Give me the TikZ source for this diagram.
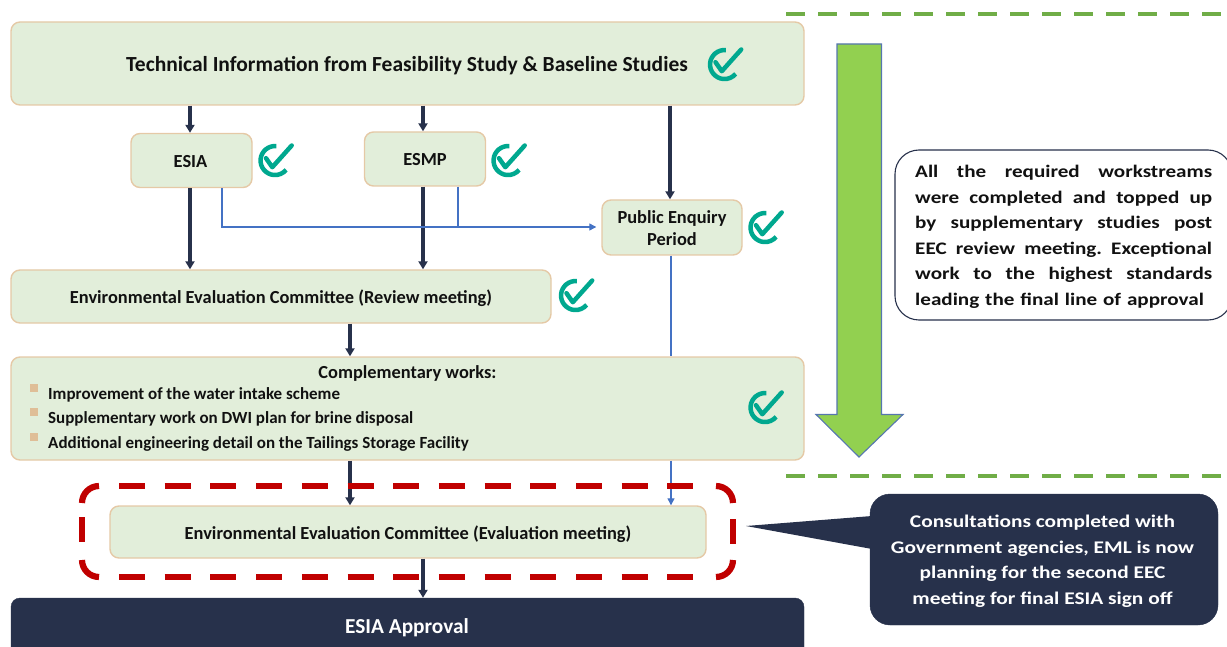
\documentclass[tikz,border=0pt]{standalone}
\usepackage{fontspec}
\setmainfont{Carlito}
\newfontfamily\widefont[FakeStretch=1.2]{Carlito}
\usetikzlibrary{arrows.meta}
\definecolor{boxfill}{HTML}{E2EEDA}
\definecolor{boxline}{HTML}{E5C9A6}
\definecolor{navy}{HTML}{27314B}
\definecolor{linkblue}{HTML}{4472C4}
\definecolor{teal}{HTML}{00A88F}
\definecolor{redd}{HTML}{C00000}
\definecolor{grn}{HTML}{70AD47}
\definecolor{lime}{HTML}{92D050}
\definecolor{txt}{HTML}{111111}
\newcommand\lowered[2]{\raisebox{-#1pt}[\height][\depth]{#2}}
\tikzset{
  x=1pt,y=-1pt,
  box/.style={draw=boxline,line width=1.4pt,fill=boxfill,rounded corners=9pt,inner sep=0pt,text=txt,font=\bfseries\fontsize{18.4}{22}\selectfont,align=center},
  thick link/.style={draw=navy,line width=3.2pt,-{Triangle[length=8pt,width=9pt]}},
  thin link/.style={draw=linkblue,line width=1.2pt},
  bullet mark/.style={fill=boxline!85!brown,draw=none,minimum size=8pt,inner sep=0pt},
  item text/.style={anchor=west,inner sep=0pt,text=txt,font=\bfseries\fontsize{17}{20}\selectfont},
  green rule/.style={draw=grn,line width=4pt,dash pattern=on 19pt off 13pt},
  red stroke/.style={draw=redd,line width=6.2pt},
  pics/tick/.style={code={
    \draw[teal,line width=4.5pt] (1.3,-14.4) arc[start angle=275,end angle=40,radius=14.5];
    \draw[teal,line width=4.5pt,line join=round,line cap=round] (-9,-2.3) -- (-2.7,6.7) -- (16.7,-15);
  }},
}
\begin{document}
\begin{tikzpicture}
\useasboundingbox (0,0) rectangle (1227,647);
\clip (0,0) rectangle (1227,647);
% dashed rules
\coordinate (r1a) at (786,14); \coordinate (r1b) at (1227,14);
\coordinate (r2a) at (786,476); \coordinate (r2b) at (1227,476);
\draw[green rule] (r1a) -- (r1b);
\draw[green rule] (r2a) -- (r2b);
% boxes
\node[box,minimum width=793pt,minimum height=83pt] (top) at (407.5,63.5) {};
\node[text=txt,font=\bfseries\fontsize{21.5}{26}\selectfont,inner sep=0pt] (toptext) at (407,66) {Technical Information from Feasibility Study \& Baseline Studies};
\node[box,minimum width=121pt,minimum height=54pt] (esia) at (191.5,160.5) {\lowered{1}{\hspace*{-2pt}ESIA}};
\node[box,minimum width=121pt,minimum height=54pt] (esmp) at (425,159) {\lowered{1}{ESMP}};
\node[box,minimum width=140pt,minimum height=55pt] (pep) at (672,227.5) {\lowered{1}{Public Enquiry}\\\lowered{1}{Period}};
\node[box,minimum width=540pt,minimum height=53pt] (review) at (281,296.5) {\lowered{2}{Environmental Evaluation Committee (Review meeting)}};
\node[box,minimum width=793pt,minimum height=103pt] (comp) at (407.5,408.5) {};
\node[box,minimum width=596pt,minimum height=52pt] (eval) at (408,532) {\lowered{2}{Environmental Evaluation Committee (Evaluation meeting)}};
\node[fill=navy,draw=navy,rounded corners=9pt,minimum width=793pt,minimum height=70pt,inner sep=0pt] (appr) at (407.5,633) {};
\node[text=white,font=\bfseries\fontsize{21.3}{25}\selectfont,inner sep=0pt] (apprt) at (407,628) {ESIA Approval};
% complementary text
\node[inner sep=0pt,text=txt,font=\bfseries\fontsize{18.4}{22}\selectfont] (ctitle) at (407.5,373) {Complementary works:};
\node[item text] (i1) at (48,395) {Improvement of the water intake scheme};
\node[item text] (i2) at (48,419) {Supplementary work on DWI plan for brine disposal};
\node[item text] (i3) at (48,444) {Additional engineering detail on the Tailings Storage Facility};
\node[bullet mark] (b1) at (33.5,388) {};
\node[bullet mark] (b2) at (33.5,412) {};
\node[bullet mark] (b3) at (33.5,437) {};
% dark links
\coordinate (xa) at (190,0);
\coordinate (xb) at (423,0);
\coordinate (xc) at (670,0);
\coordinate (xd) at (350,0);
\draw[thick link] (top.south -| xa) -- (esia.north -| xa);
\draw[thick link] (top.south -| xb) -- (esmp.north -| xb);
\draw[thick link] (top.south -| xc) -- (pep.north -| xc);
\draw[thick link] (esia.south -| xa) -- (review.north -| xa);
\draw[thick link] (esmp.south -| xb) -- (review.north -| xb);
\draw[thick link] (review.south -| xd) -- (comp.north -| xd);
\draw[thick link] (comp.south -| xd) -- (eval.north -| xd);
\draw[thick link] (eval.south -| xb) -- (appr.north -| xb);
% blue links
\coordinate (b1x) at (222,227);
\coordinate (b2x) at (458,227);
\coordinate (bx) at (671,0);
\draw[thin link,-{Triangle[length=7pt,width=7pt]}] (esia.south -| b1x) -- (b1x) -- ([xshift=-5pt]pep.west |- b1x);
\draw[thin link] (esmp.south -| b2x) -- (b2x);
\draw[thin link] (pep.south -| bx) -- (comp.north -| bx);
\draw[thin link,-{Triangle[length=7pt,width=7pt]}] (comp.south -| bx) -- (eval.north -| bx);
% red dashed frame
\draw[red stroke,dash pattern=on 26pt off 19.7pt] (119,486) -- (696,486);
\draw[red stroke,dash pattern=on 26pt off 19.7pt] (119,577) -- (696,577);
\draw[red stroke] (82,503) arc[start angle=180,end angle=270,radius=17];
\draw[red stroke] (716,486) arc[start angle=270,end angle=360,radius=17];
\draw[red stroke] (82,560) arc[start angle=180,end angle=90,radius=17];
\draw[red stroke] (716,577) arc[start angle=90,end angle=0,radius=17];
\draw[red stroke] (82,517) -- (82,542);
\draw[red stroke] (733,519) -- (733,544);
% ticks
\pic at (275,160.5) {tick};
\pic at (508,160.5) {tick};
\pic at (724.5,64.5) {tick};
\pic at (765,227.5) {tick};
\pic at (575.5,295.5) {tick};
\pic at (765,407.5) {tick};
% big arrow
\draw[draw=linkblue!70!gray,line width=1.1pt,fill=lime] (837,44) -- (881.5,44) -- (881.5,414.5) -- (903,414.5) -- (859,457) -- (816,414.5) -- (837,414.5) -- cycle;
% note
\node[draw=navy,fill=white,line width=1.1pt,rounded corners=24pt,minimum width=337pt,minimum height=170pt,inner sep=0pt] (note) at (1063.5,235) {};
\node[anchor=north west,inner sep=0pt,text width=297pt,text=txt,font=\widefont\bfseries\fontsize{17.6}{25.5}\selectfont] (notet) at (915,165) {%
\makebox[297pt][s]{All\hfill the\hfill required\hfill workstreams}\\
\makebox[297pt][s]{were\hfill completed\hfill and\hfill topped\hfill up}\\
\makebox[297pt][s]{by\hfill supplementary\hfill studies\hfill post}\\
\makebox[297pt][s]{EEC\hfill review\hfill meeting.\hfill Exceptional}\\
\makebox[297pt][s]{work\hfill to\hfill the\hfill highest\hfill standards}\\
leading the final line of approval};
% callout
\node[fill=navy,draw=navy,rounded corners=20pt,minimum width=348pt,minimum height=131pt,inner sep=0pt] (call) at (1044,559.5) {};
\coordinate (tip) at (746,526);
\fill[navy] (tip) -- (872,516) -- (872,549) -- cycle;
\node[inner sep=0pt,text=white,align=center,font=\widefont\bfseries\fontsize{17.8}{25.5}\selectfont] (callt) at (1042.5,561) {Consultations completed with\\Government agencies, EML is now\\planning for the second EEC\\meeting for final ESIA sign off};
\end{tikzpicture}
\end{document}
